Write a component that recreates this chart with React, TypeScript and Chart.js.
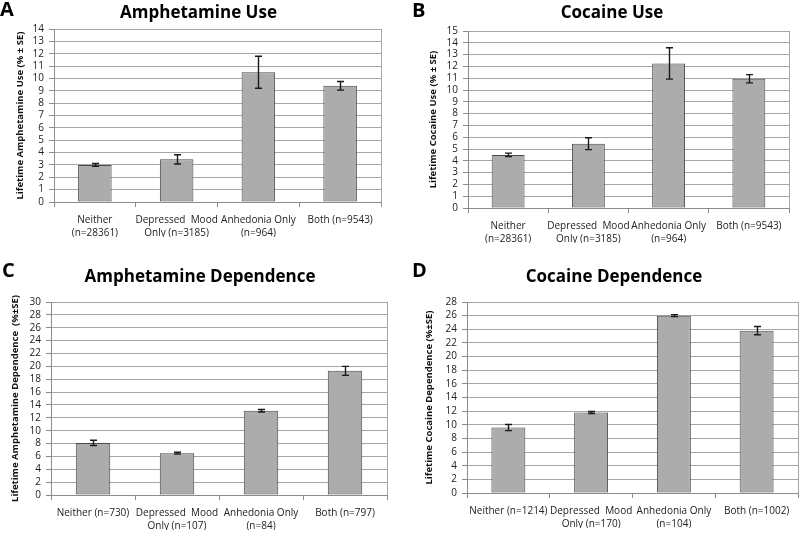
import React, { useEffect, useRef } from "react";
import { Chart, registerables } from "chart.js";

Chart.register(...registerables);

// ---------- Data ----------
const useLabels = [
  ["Neither", "(n=28361)"],
  ["Depressed  Mood", "Only (n=3185)"],
  ["Anhedonia Only", "(n=964)"],
  ["Both (n=9543)"],
];
const ampDepLabels = [
  ["Neither (n=730)"],
  ["Depressed  Mood", "Only (n=107)"],
  ["Anhedonia Only", "(n=84)"],
  ["Both (n=797)"],
];
const cocDepLabels = [
  ["Neither (n=1214)"],
  ["Depressed  Mood", "Only (n=170)"],
  ["Anhedonia Only", "(n=104)"],
  ["Both (n=1002)"],
];

const ampUseValues = [3.0, 3.45, 10.5, 9.4];
const ampUseErrors = [0.12, 0.37, 1.3, 0.35];

const cocUseValues = [4.5, 5.45, 12.25, 10.95];
const cocUseErrors = [0.15, 0.5, 1.33, 0.35];

const ampDepValues = [8.1, 6.5, 13.1, 19.3];
const ampDepErrors = [0.4, 0.15, 0.2, 0.7];

const cocDepValues = [9.6, 11.8, 26.0, 23.8];
const cocDepErrors = [0.45, 0.15, 0.15, 0.6];

const FONT = "'Open Sans', 'DejaVu Sans', sans-serif";

type PanelProps = {
  left: number;
  top: number;
  width: number;
  height: number;
  area: { l: number; r: number; t: number; b: number };
  yTitleX: number;
  labels: string[][];
  values: number[];
  errors: number[];
  max: number;
  step: number;
  yTitle: string;
};

function BarPanel(p: PanelProps) {
  const ref = useRef<HTMLCanvasElement>(null);
  useEffect(() => {
    const canvas = ref.current;
    if (!canvas) return;
    const yTitleSize = 9.5;
    const padLeft = p.yTitleX - (yTitleSize * 1.2) / 2;
    const yWidth = p.area.l - padLeft;
    const xHeight = 35;

    const align = (v: number) => Math.round(v - 0.5) + 0.5;

    const extras = {
      id: "extras",
      beforeDatasetsDraw(chart: any) {
        const c = chart.ctx;
        const a = chart.chartArea;
        c.save();
        c.strokeStyle = "#a6a6a6";
        c.lineWidth = 1;
        c.beginPath();
        const x = align(a.right);
        c.moveTo(x, a.top);
        c.lineTo(x, a.bottom);
        c.stroke();
        c.restore();
      },
      afterDatasetsDraw(chart: any) {
        const c = chart.ctx;
        const meta = chart.getDatasetMeta(0);
        const ys = chart.scales.y;
        c.save();
        c.strokeStyle = "#1a1a1a";
        c.lineWidth = 1.4;
        meta.data.forEach((bar: any, i: number) => {
          const x = Math.round(bar.x) + 0.5;
          const hi = ys.getPixelForValue(p.values[i] + p.errors[i]);
          const lo = ys.getPixelForValue(p.values[i] - p.errors[i]);
          c.beginPath();
          c.moveTo(x, hi);
          c.lineTo(x, lo);
          c.moveTo(x - 3.5, hi);
          c.lineTo(x + 3.5, hi);
          c.moveTo(x - 3.5, lo);
          c.lineTo(x + 3.5, lo);
          c.stroke();
        });
        c.restore();
      },
    };

    const chart = new Chart(canvas, {
      type: "bar",
      data: {
        labels: p.labels as any,
        datasets: [
          {
            data: p.values,
            backgroundColor: "#acacac",
            borderColor: "#4a4a4a",
            borderWidth: 1,
            borderSkipped: false,
            barPercentage: 0.41,
            categoryPercentage: 1,
          },
        ],
      },
      options: {
        responsive: false,
        animation: false,
        devicePixelRatio: 1,
        layout: {
          padding: {
            left: padLeft,
            top: p.area.t,
            right: p.width - p.area.r,
            bottom: p.height - p.area.b - xHeight,
          },
        },
        plugins: {
          legend: { display: false },
          tooltip: { enabled: false },
        },
        scales: {
          x: {
            grid: {
              display: true,
              drawOnChartArea: false,
              drawTicks: true,
              tickLength: 5,
              color: "#8c8c8c",
              offset: true,
            },
            border: { color: "#8c8c8c" },
            ticks: {
              color: "#222",
              font: { family: FONT, size: 10, lineHeight: 1.35 },
              padding: 6,
              maxRotation: 0,
              minRotation: 0,
              autoSkip: false,
            },
            afterFit(s: any) {
              s.height = xHeight;
            },
          },
          y: {
            min: 0,
            max: p.max,
            ticks: {
              stepSize: p.step,
              maxTicksLimit: 100,
              autoSkip: false,
              color: "#222",
              font: { family: FONT, size: 10 },
              padding: 5,
            },
            grid: { color: "#a6a6a6", tickLength: 5, tickColor: "#8c8c8c" },
            border: { color: "#8c8c8c" },
            title: {
              display: true,
              text: p.yTitle,
              color: "#111",
              font: { family: FONT, size: yTitleSize, weight: "bold" },
              padding: 0,
            },
            afterFit(s: any) {
              s.width = yWidth;
            },
          },
        },
      } as any,
      plugins: [extras],
    });
    return () => chart.destroy();
  }, []);
  return (
    <canvas
      ref={ref}
      width={p.width}
      height={p.height}
      style={{ position: "absolute", left: p.left, top: p.top, width: p.width, height: p.height }}
    />
  );
}

const titleStyle = (cx: number, top: number): React.CSSProperties => ({
  position: "absolute",
  left: cx,
  top,
  transform: "translateX(-50%)",
  whiteSpace: "nowrap",
  fontFamily: FONT,
  fontWeight: "bold",
  fontSize: 17,
  lineHeight: "20px",
  color: "#000",
});

const letterStyle = (left: number, top: number): React.CSSProperties => ({
  position: "absolute",
  left,
  top,
  fontFamily: FONT,
  fontWeight: "bold",
  fontSize: 20,
  lineHeight: "20px",
  color: "#000",
});

export default function App() {
  return (
    <div
      style={{
        position: "fixed",
        left: 0,
        top: 0,
        width: 800,
        height: 533,
        background: "#fff",
        overflow: "hidden",
      }}
    >
      <BarPanel
        left={0}
        top={0}
        width={400}
        height={266}
        area={{ l: 54, r: 381, t: 29, b: 202 }}
        yTitleX={20.3}
        labels={useLabels}
        values={ampUseValues}
        errors={ampUseErrors}
        max={14}
        step={1}
        yTitle="Lifetime Amphetamine Use (% ± SE)"
      />
      <BarPanel
        left={400}
        top={0}
        width={400}
        height={266}
        area={{ l: 68, r: 389, t: 31, b: 208 }}
        yTitleX={33.3}
        labels={useLabels}
        values={cocUseValues}
        errors={cocUseErrors}
        max={15}
        step={1}
        yTitle="Lifetime Cocaine Use (% ± SE)"
      />
      <BarPanel
        left={0}
        top={266}
        width={400}
        height={267}
        area={{ l: 51, r: 387, t: 36, b: 229 }}
        yTitleX={15.5}
        labels={ampDepLabels}
        values={ampDepValues}
        errors={ampDepErrors}
        max={30}
        step={2}
        yTitle="Lifetime Amphetamine Dependence  (%±SE)"
      />
      <BarPanel
        left={400}
        top={266}
        width={400}
        height={267}
        area={{ l: 67, r: 398, t: 36, b: 227 }}
        yTitleX={29.7}
        labels={cocDepLabels}
        values={cocDepValues}
        errors={cocDepErrors}
        max={28}
        step={2}
        yTitle="Lifetime Cocaine Dependence (%±SE)"
      />

      <div style={letterStyle(0, -1)}>A</div>
      <div style={letterStyle(412, -0.5)}>B</div>
      <div style={letterStyle(2, 260)}>C</div>
      <div style={letterStyle(412, 260)}>D</div>

      <div style={titleStyle(198.5, 1.5)}>Amphetamine Use</div>
      <div style={titleStyle(612, 2)}>Cocaine Use</div>
      <div style={titleStyle(200, 266)}>Amphetamine Dependence</div>
      <div style={titleStyle(614, 266)}>Cocaine Dependence</div>
    </div>
  );
}
